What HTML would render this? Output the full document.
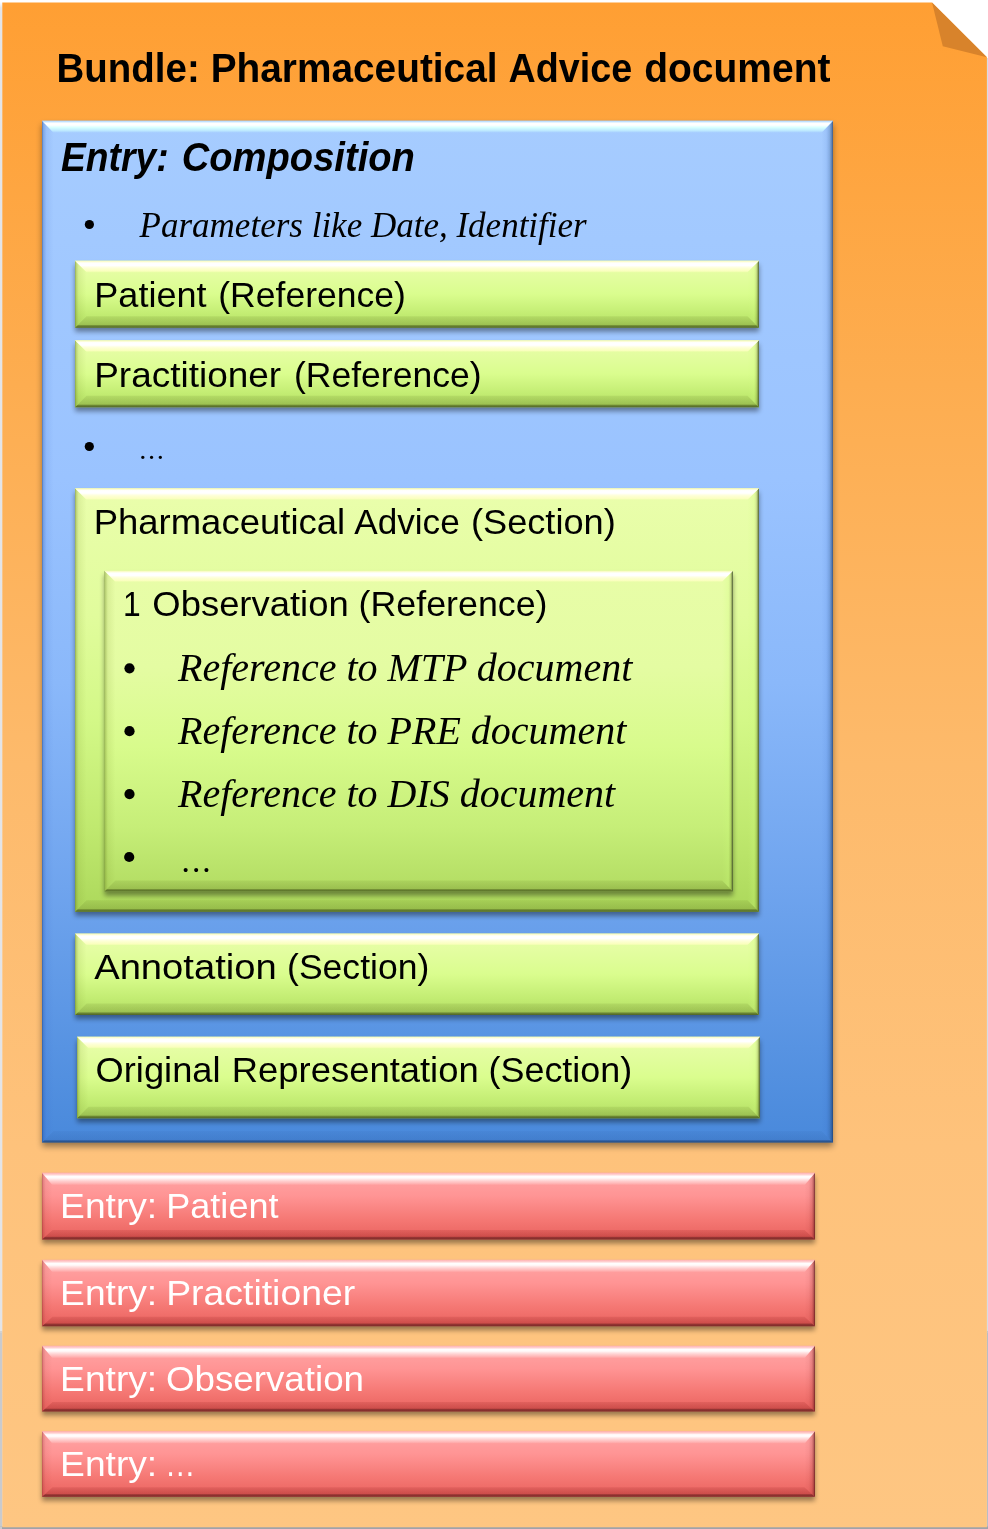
<!DOCTYPE html>
<html><head><meta charset="utf-8"><title>Bundle: Pharmaceutical Advice document</title>
<style>
html,body{margin:0;padding:0;background:#fff;}
body{width:988px;height:1529px;overflow:hidden;font-family:"Liberation Sans",sans-serif;}
svg{display:block;will-change:transform;}
text{white-space:pre;}
</style></head><body>
<svg width="988" height="1529" viewBox="0 0 988 1529">
<defs>
<linearGradient id="g1" gradientUnits="userSpaceOnUse" x1="0" y1="2" x2="0" y2="8"><stop offset="0" stop-color="#ffffff"/><stop offset="1" stop-color="#E3E4E7"/></linearGradient>
<linearGradient id="g2" x1="0" y1="0" x2="0" y2="1"><stop offset="0" stop-color="#FF9F33"/><stop offset="0.25" stop-color="#FDAD50"/><stop offset="0.5" stop-color="#FDBA6B"/><stop offset="0.75" stop-color="#FEC27B"/><stop offset="1" stop-color="#FEC682"/></linearGradient>
<filter id="f3" x="-10%" y="-50%" width="120%" height="200%"><feGaussianBlur stdDeviation="3"/><feOffset dx="0.3" dy="4.2"/><feComponentTransfer><feFuncA type="linear" slope="0.4"/></feComponentTransfer></filter>
<filter id="f4" x="-10%" y="-50%" width="120%" height="200%"><feGaussianBlur stdDeviation="2.9"/><feOffset dx="0.2" dy="4"/><feComponentTransfer><feFuncA type="linear" slope="0.4"/></feComponentTransfer></filter>
<linearGradient id="g5" x1="0" y1="0" x2="0" y2="1"><stop offset="0" stop-color="#A6CCFF"/><stop offset="0.35" stop-color="#9AC3FF"/><stop offset="0.55" stop-color="#8AB8FA"/><stop offset="0.75" stop-color="#6FA4EE"/><stop offset="1" stop-color="#4989DB"/></linearGradient>
<linearGradient id="g6" gradientUnits="userSpaceOnUse" x1="42" y1="0" x2="53.5" y2="0"><stop offset="0" stop-color="#103470" stop-opacity="0.6"/><stop offset="0.1" stop-color="#1c48a0" stop-opacity="0.3"/><stop offset="0.4" stop-color="#3060d0" stop-opacity="0.1"/><stop offset="1" stop-color="#3060c0" stop-opacity="0.0"/></linearGradient>
<linearGradient id="g7" gradientUnits="userSpaceOnUse" x1="833" y1="0" x2="821.5" y2="0"><stop offset="0" stop-color="#102850" stop-opacity="0.75"/><stop offset="0.08" stop-color="#183868" stop-opacity="0.55"/><stop offset="0.3" stop-color="#204880" stop-opacity="0.25"/><stop offset="0.6" stop-color="#3060c0" stop-opacity="0.08"/><stop offset="1" stop-color="#3060c0" stop-opacity="0.0"/></linearGradient>
<linearGradient id="g8" gradientUnits="userSpaceOnUse" x1="0" y1="120.7" x2="0" y2="132.7"><stop offset="0" stop-color="#a4d4ff" stop-opacity="0.8"/><stop offset="0.2" stop-color="#ffffff" stop-opacity="1.0"/><stop offset="0.36" stop-color="#ffffff" stop-opacity="1.0"/><stop offset="0.58" stop-color="#d6ffff" stop-opacity="1.0"/><stop offset="0.85" stop-color="#c0ecff" stop-opacity="0.85"/><stop offset="1" stop-color="#b0dcff" stop-opacity="0.2"/></linearGradient>
<linearGradient id="g9" gradientUnits="userSpaceOnUse" x1="0" y1="1142.5" x2="0" y2="1131.0"><stop offset="0" stop-color="#0a2040" stop-opacity="0.6"/><stop offset="0.16" stop-color="#102a58" stop-opacity="0.45"/><stop offset="0.24" stop-color="#183a78" stop-opacity="0.14"/><stop offset="1" stop-color="#183a78" stop-opacity="0.05"/></linearGradient>
<linearGradient id="g10" x1="0" y1="0" x2="0" y2="1"><stop offset="0" stop-color="#EAFEAC"/><stop offset="0.25" stop-color="#E2FD9E"/><stop offset="0.5" stop-color="#DAFD8E"/><stop offset="0.8" stop-color="#C2EC72"/><stop offset="1" stop-color="#B2DC64"/></linearGradient>
<linearGradient id="g11" gradientUnits="userSpaceOnUse" x1="75" y1="0" x2="86.5" y2="0"><stop offset="0" stop-color="#5a7420" stop-opacity="0.62"/><stop offset="0.1" stop-color="#6a8420" stop-opacity="0.36"/><stop offset="0.32" stop-color="#7a9428" stop-opacity="0.13"/><stop offset="1" stop-color="#7a9428" stop-opacity="0.0"/></linearGradient>
<linearGradient id="g12" gradientUnits="userSpaceOnUse" x1="759" y1="0" x2="747.5" y2="0"><stop offset="0" stop-color="#38442c" stop-opacity="0.9"/><stop offset="0.1" stop-color="#4a5c24" stop-opacity="0.58"/><stop offset="0.25" stop-color="#6a8420" stop-opacity="0.16"/><stop offset="0.42" stop-color="#ccff78" stop-opacity="0.22"/><stop offset="0.75" stop-color="#ccff78" stop-opacity="0.08"/><stop offset="1" stop-color="#ccff78" stop-opacity="0.0"/></linearGradient>
<linearGradient id="g13" gradientUnits="userSpaceOnUse" x1="0" y1="260.7" x2="0" y2="272.2"><stop offset="0" stop-color="#fbfbb8" stop-opacity="0.85"/><stop offset="0.2" stop-color="#ffffff" stop-opacity="1.0"/><stop offset="0.42" stop-color="#ffffff" stop-opacity="1.0"/><stop offset="0.62" stop-color="#ffffdc" stop-opacity="0.95"/><stop offset="0.9" stop-color="#ffffc4" stop-opacity="0.8"/><stop offset="1" stop-color="#ffffc0" stop-opacity="0.25"/></linearGradient>
<linearGradient id="g14" gradientUnits="userSpaceOnUse" x1="0" y1="327.7" x2="0" y2="316.2"><stop offset="0" stop-color="#3c4c1c" stop-opacity="0.85"/><stop offset="0.18" stop-color="#50661e" stop-opacity="0.7"/><stop offset="0.28" stop-color="#6a8428" stop-opacity="0.32"/><stop offset="1" stop-color="#6a8428" stop-opacity="0.14"/></linearGradient>
<linearGradient id="g15" x1="0" y1="0" x2="0" y2="1"><stop offset="0" stop-color="#EAFEAC"/><stop offset="0.25" stop-color="#E2FD9E"/><stop offset="0.5" stop-color="#DAFD8E"/><stop offset="0.8" stop-color="#C2EC72"/><stop offset="1" stop-color="#B2DC64"/></linearGradient>
<linearGradient id="g16" gradientUnits="userSpaceOnUse" x1="75" y1="0" x2="86.5" y2="0"><stop offset="0" stop-color="#5a7420" stop-opacity="0.62"/><stop offset="0.1" stop-color="#6a8420" stop-opacity="0.36"/><stop offset="0.32" stop-color="#7a9428" stop-opacity="0.13"/><stop offset="1" stop-color="#7a9428" stop-opacity="0.0"/></linearGradient>
<linearGradient id="g17" gradientUnits="userSpaceOnUse" x1="759" y1="0" x2="747.5" y2="0"><stop offset="0" stop-color="#38442c" stop-opacity="0.9"/><stop offset="0.1" stop-color="#4a5c24" stop-opacity="0.58"/><stop offset="0.25" stop-color="#6a8420" stop-opacity="0.16"/><stop offset="0.42" stop-color="#ccff78" stop-opacity="0.22"/><stop offset="0.75" stop-color="#ccff78" stop-opacity="0.08"/><stop offset="1" stop-color="#ccff78" stop-opacity="0.0"/></linearGradient>
<linearGradient id="g18" gradientUnits="userSpaceOnUse" x1="0" y1="340.3" x2="0" y2="351.8"><stop offset="0" stop-color="#fbfbb8" stop-opacity="0.85"/><stop offset="0.2" stop-color="#ffffff" stop-opacity="1.0"/><stop offset="0.42" stop-color="#ffffff" stop-opacity="1.0"/><stop offset="0.62" stop-color="#ffffdc" stop-opacity="0.95"/><stop offset="0.9" stop-color="#ffffc4" stop-opacity="0.8"/><stop offset="1" stop-color="#ffffc0" stop-opacity="0.25"/></linearGradient>
<linearGradient id="g19" gradientUnits="userSpaceOnUse" x1="0" y1="407.3" x2="0" y2="395.8"><stop offset="0" stop-color="#3c4c1c" stop-opacity="0.85"/><stop offset="0.18" stop-color="#50661e" stop-opacity="0.7"/><stop offset="0.28" stop-color="#6a8428" stop-opacity="0.32"/><stop offset="1" stop-color="#6a8428" stop-opacity="0.14"/></linearGradient>
<linearGradient id="g20" x1="0" y1="0" x2="0" y2="1"><stop offset="0" stop-color="#EAFEAC"/><stop offset="0.3" stop-color="#E1FC9C"/><stop offset="0.55" stop-color="#D3F887"/><stop offset="0.8" stop-color="#C0E96F"/><stop offset="1" stop-color="#ACD85B"/></linearGradient>
<linearGradient id="g21" gradientUnits="userSpaceOnUse" x1="75" y1="0" x2="86.5" y2="0"><stop offset="0" stop-color="#5a7420" stop-opacity="0.62"/><stop offset="0.1" stop-color="#6a8420" stop-opacity="0.36"/><stop offset="0.32" stop-color="#7a9428" stop-opacity="0.13"/><stop offset="1" stop-color="#7a9428" stop-opacity="0.0"/></linearGradient>
<linearGradient id="g22" gradientUnits="userSpaceOnUse" x1="759" y1="0" x2="747.5" y2="0"><stop offset="0" stop-color="#38442c" stop-opacity="0.9"/><stop offset="0.1" stop-color="#4a5c24" stop-opacity="0.58"/><stop offset="0.25" stop-color="#6a8420" stop-opacity="0.16"/><stop offset="0.42" stop-color="#ccff78" stop-opacity="0.22"/><stop offset="0.75" stop-color="#ccff78" stop-opacity="0.08"/><stop offset="1" stop-color="#ccff78" stop-opacity="0.0"/></linearGradient>
<linearGradient id="g23" gradientUnits="userSpaceOnUse" x1="0" y1="488.3" x2="0" y2="499.8"><stop offset="0" stop-color="#fbfbb8" stop-opacity="0.85"/><stop offset="0.2" stop-color="#ffffff" stop-opacity="1.0"/><stop offset="0.42" stop-color="#ffffff" stop-opacity="1.0"/><stop offset="0.62" stop-color="#ffffdc" stop-opacity="0.95"/><stop offset="0.9" stop-color="#ffffc4" stop-opacity="0.8"/><stop offset="1" stop-color="#ffffc0" stop-opacity="0.25"/></linearGradient>
<linearGradient id="g24" gradientUnits="userSpaceOnUse" x1="0" y1="911.8" x2="0" y2="900.3"><stop offset="0" stop-color="#3c4c1c" stop-opacity="0.85"/><stop offset="0.18" stop-color="#50661e" stop-opacity="0.7"/><stop offset="0.28" stop-color="#6a8428" stop-opacity="0.32"/><stop offset="1" stop-color="#6a8428" stop-opacity="0.14"/></linearGradient>
<linearGradient id="g25" x1="0" y1="0" x2="0" y2="1"><stop offset="0" stop-color="#E8FDA8"/><stop offset="0.3" stop-color="#E4FCA2"/><stop offset="0.55" stop-color="#D8FB8C"/><stop offset="0.8" stop-color="#C6EE78"/><stop offset="1" stop-color="#B2DC62"/></linearGradient>
<linearGradient id="g26" gradientUnits="userSpaceOnUse" x1="104.4" y1="0" x2="115.4" y2="0"><stop offset="0" stop-color="#5a7420" stop-opacity="0.62"/><stop offset="0.1" stop-color="#6a8420" stop-opacity="0.36"/><stop offset="0.32" stop-color="#7a9428" stop-opacity="0.13"/><stop offset="1" stop-color="#7a9428" stop-opacity="0.0"/></linearGradient>
<linearGradient id="g27" gradientUnits="userSpaceOnUse" x1="733.0" y1="0" x2="722.0" y2="0"><stop offset="0" stop-color="#38442c" stop-opacity="0.9"/><stop offset="0.1" stop-color="#4a5c24" stop-opacity="0.58"/><stop offset="0.25" stop-color="#6a8420" stop-opacity="0.16"/><stop offset="0.42" stop-color="#ccff78" stop-opacity="0.22"/><stop offset="0.75" stop-color="#ccff78" stop-opacity="0.08"/><stop offset="1" stop-color="#ccff78" stop-opacity="0.0"/></linearGradient>
<linearGradient id="g28" gradientUnits="userSpaceOnUse" x1="0" y1="570.8" x2="0" y2="581.8"><stop offset="0" stop-color="#fbfbb8" stop-opacity="0.85"/><stop offset="0.2" stop-color="#ffffff" stop-opacity="1.0"/><stop offset="0.42" stop-color="#ffffff" stop-opacity="1.0"/><stop offset="0.62" stop-color="#ffffdc" stop-opacity="0.95"/><stop offset="0.9" stop-color="#ffffc4" stop-opacity="0.8"/><stop offset="1" stop-color="#ffffc0" stop-opacity="0.25"/></linearGradient>
<linearGradient id="g29" gradientUnits="userSpaceOnUse" x1="0" y1="891.5999999999999" x2="0" y2="880.5999999999999"><stop offset="0" stop-color="#3c4c1c" stop-opacity="0.85"/><stop offset="0.18" stop-color="#50661e" stop-opacity="0.7"/><stop offset="0.28" stop-color="#6a8428" stop-opacity="0.32"/><stop offset="1" stop-color="#6a8428" stop-opacity="0.14"/></linearGradient>
<linearGradient id="g30" x1="0" y1="0" x2="0" y2="1"><stop offset="0" stop-color="#EAFEAC"/><stop offset="0.25" stop-color="#E2FD9E"/><stop offset="0.5" stop-color="#DAFD8E"/><stop offset="0.8" stop-color="#C2EC72"/><stop offset="1" stop-color="#B2DC64"/></linearGradient>
<linearGradient id="g31" gradientUnits="userSpaceOnUse" x1="75" y1="0" x2="86.5" y2="0"><stop offset="0" stop-color="#5a7420" stop-opacity="0.62"/><stop offset="0.1" stop-color="#6a8420" stop-opacity="0.36"/><stop offset="0.32" stop-color="#7a9428" stop-opacity="0.13"/><stop offset="1" stop-color="#7a9428" stop-opacity="0.0"/></linearGradient>
<linearGradient id="g32" gradientUnits="userSpaceOnUse" x1="759" y1="0" x2="747.5" y2="0"><stop offset="0" stop-color="#38442c" stop-opacity="0.9"/><stop offset="0.1" stop-color="#4a5c24" stop-opacity="0.58"/><stop offset="0.25" stop-color="#6a8420" stop-opacity="0.16"/><stop offset="0.42" stop-color="#ccff78" stop-opacity="0.22"/><stop offset="0.75" stop-color="#ccff78" stop-opacity="0.08"/><stop offset="1" stop-color="#ccff78" stop-opacity="0.0"/></linearGradient>
<linearGradient id="g33" gradientUnits="userSpaceOnUse" x1="0" y1="933.6" x2="0" y2="945.1"><stop offset="0" stop-color="#fbfbb8" stop-opacity="0.85"/><stop offset="0.2" stop-color="#ffffff" stop-opacity="1.0"/><stop offset="0.42" stop-color="#ffffff" stop-opacity="1.0"/><stop offset="0.62" stop-color="#ffffdc" stop-opacity="0.95"/><stop offset="0.9" stop-color="#ffffc4" stop-opacity="0.8"/><stop offset="1" stop-color="#ffffc0" stop-opacity="0.25"/></linearGradient>
<linearGradient id="g34" gradientUnits="userSpaceOnUse" x1="0" y1="1015.0" x2="0" y2="1003.5"><stop offset="0" stop-color="#3c4c1c" stop-opacity="0.85"/><stop offset="0.18" stop-color="#50661e" stop-opacity="0.7"/><stop offset="0.28" stop-color="#6a8428" stop-opacity="0.32"/><stop offset="1" stop-color="#6a8428" stop-opacity="0.14"/></linearGradient>
<linearGradient id="g35" x1="0" y1="0" x2="0" y2="1"><stop offset="0" stop-color="#EAFEAC"/><stop offset="0.25" stop-color="#E2FD9E"/><stop offset="0.5" stop-color="#DAFD8E"/><stop offset="0.8" stop-color="#C2EC72"/><stop offset="1" stop-color="#B2DC64"/></linearGradient>
<linearGradient id="g36" gradientUnits="userSpaceOnUse" x1="77" y1="0" x2="88.5" y2="0"><stop offset="0" stop-color="#5a7420" stop-opacity="0.62"/><stop offset="0.1" stop-color="#6a8420" stop-opacity="0.36"/><stop offset="0.32" stop-color="#7a9428" stop-opacity="0.13"/><stop offset="1" stop-color="#7a9428" stop-opacity="0.0"/></linearGradient>
<linearGradient id="g37" gradientUnits="userSpaceOnUse" x1="760" y1="0" x2="748.5" y2="0"><stop offset="0" stop-color="#38442c" stop-opacity="0.9"/><stop offset="0.1" stop-color="#4a5c24" stop-opacity="0.58"/><stop offset="0.25" stop-color="#6a8420" stop-opacity="0.16"/><stop offset="0.42" stop-color="#ccff78" stop-opacity="0.22"/><stop offset="0.75" stop-color="#ccff78" stop-opacity="0.08"/><stop offset="1" stop-color="#ccff78" stop-opacity="0.0"/></linearGradient>
<linearGradient id="g38" gradientUnits="userSpaceOnUse" x1="0" y1="1036.7" x2="0" y2="1048.2"><stop offset="0" stop-color="#fbfbb8" stop-opacity="0.85"/><stop offset="0.2" stop-color="#ffffff" stop-opacity="1.0"/><stop offset="0.42" stop-color="#ffffff" stop-opacity="1.0"/><stop offset="0.62" stop-color="#ffffdc" stop-opacity="0.95"/><stop offset="0.9" stop-color="#ffffc4" stop-opacity="0.8"/><stop offset="1" stop-color="#ffffc0" stop-opacity="0.25"/></linearGradient>
<linearGradient id="g39" gradientUnits="userSpaceOnUse" x1="0" y1="1118.3" x2="0" y2="1106.8"><stop offset="0" stop-color="#3c4c1c" stop-opacity="0.85"/><stop offset="0.18" stop-color="#50661e" stop-opacity="0.7"/><stop offset="0.28" stop-color="#6a8428" stop-opacity="0.32"/><stop offset="1" stop-color="#6a8428" stop-opacity="0.14"/></linearGradient>
<linearGradient id="g40" x1="0" y1="0" x2="0" y2="1"><stop offset="0" stop-color="#FFA6A6"/><stop offset="0.35" stop-color="#FF9494"/><stop offset="0.7" stop-color="#F57874"/><stop offset="1" stop-color="#E9625E"/></linearGradient>
<linearGradient id="g41" gradientUnits="userSpaceOnUse" x1="42" y1="0" x2="52.5" y2="0"><stop offset="0" stop-color="#701414" stop-opacity="0.5"/><stop offset="0.1" stop-color="#801818" stop-opacity="0.22"/><stop offset="0.35" stop-color="#801818" stop-opacity="0.06"/><stop offset="1" stop-color="#801818" stop-opacity="0.0"/></linearGradient>
<linearGradient id="g42" gradientUnits="userSpaceOnUse" x1="815" y1="0" x2="804.5" y2="0"><stop offset="0" stop-color="#400c0c" stop-opacity="0.8"/><stop offset="0.1" stop-color="#601414" stop-opacity="0.5"/><stop offset="0.3" stop-color="#801818" stop-opacity="0.2"/><stop offset="0.6" stop-color="#801818" stop-opacity="0.05"/><stop offset="1" stop-color="#801818" stop-opacity="0.0"/></linearGradient>
<linearGradient id="g43" gradientUnits="userSpaceOnUse" x1="0" y1="1172.7" x2="0" y2="1185.2"><stop offset="0" stop-color="#ffc8c8" stop-opacity="0.35"/><stop offset="0.12" stop-color="#ffd8d8" stop-opacity="0.7"/><stop offset="0.28" stop-color="#ffffff" stop-opacity="0.98"/><stop offset="0.42" stop-color="#ffffff" stop-opacity="0.95"/><stop offset="0.7" stop-color="#fff0f0" stop-opacity="0.55"/><stop offset="1" stop-color="#ffffff" stop-opacity="0.0"/></linearGradient>
<linearGradient id="g44" gradientUnits="userSpaceOnUse" x1="0" y1="1239.5" x2="0" y2="1230.0"><stop offset="0" stop-color="#501414" stop-opacity="0.72"/><stop offset="0.22" stop-color="#601818" stop-opacity="0.62"/><stop offset="0.34" stop-color="#901c1c" stop-opacity="0.32"/><stop offset="1" stop-color="#901c1c" stop-opacity="0.14"/></linearGradient>
<linearGradient id="g45" x1="0" y1="0" x2="0" y2="1"><stop offset="0" stop-color="#FFA6A6"/><stop offset="0.35" stop-color="#FF9494"/><stop offset="0.7" stop-color="#F57874"/><stop offset="1" stop-color="#E9625E"/></linearGradient>
<linearGradient id="g46" gradientUnits="userSpaceOnUse" x1="42" y1="0" x2="52.5" y2="0"><stop offset="0" stop-color="#701414" stop-opacity="0.5"/><stop offset="0.1" stop-color="#801818" stop-opacity="0.22"/><stop offset="0.35" stop-color="#801818" stop-opacity="0.06"/><stop offset="1" stop-color="#801818" stop-opacity="0.0"/></linearGradient>
<linearGradient id="g47" gradientUnits="userSpaceOnUse" x1="815" y1="0" x2="804.5" y2="0"><stop offset="0" stop-color="#400c0c" stop-opacity="0.8"/><stop offset="0.1" stop-color="#601414" stop-opacity="0.5"/><stop offset="0.3" stop-color="#801818" stop-opacity="0.2"/><stop offset="0.6" stop-color="#801818" stop-opacity="0.05"/><stop offset="1" stop-color="#801818" stop-opacity="0.0"/></linearGradient>
<linearGradient id="g48" gradientUnits="userSpaceOnUse" x1="0" y1="1259.8" x2="0" y2="1272.3"><stop offset="0" stop-color="#ffc8c8" stop-opacity="0.35"/><stop offset="0.12" stop-color="#ffd8d8" stop-opacity="0.7"/><stop offset="0.28" stop-color="#ffffff" stop-opacity="0.98"/><stop offset="0.42" stop-color="#ffffff" stop-opacity="0.95"/><stop offset="0.7" stop-color="#fff0f0" stop-opacity="0.55"/><stop offset="1" stop-color="#ffffff" stop-opacity="0.0"/></linearGradient>
<linearGradient id="g49" gradientUnits="userSpaceOnUse" x1="0" y1="1326.2" x2="0" y2="1316.7"><stop offset="0" stop-color="#501414" stop-opacity="0.72"/><stop offset="0.22" stop-color="#601818" stop-opacity="0.62"/><stop offset="0.34" stop-color="#901c1c" stop-opacity="0.32"/><stop offset="1" stop-color="#901c1c" stop-opacity="0.14"/></linearGradient>
<linearGradient id="g50" x1="0" y1="0" x2="0" y2="1"><stop offset="0" stop-color="#FFA6A6"/><stop offset="0.35" stop-color="#FF9494"/><stop offset="0.7" stop-color="#F57874"/><stop offset="1" stop-color="#E9625E"/></linearGradient>
<linearGradient id="g51" gradientUnits="userSpaceOnUse" x1="42" y1="0" x2="52.5" y2="0"><stop offset="0" stop-color="#701414" stop-opacity="0.5"/><stop offset="0.1" stop-color="#801818" stop-opacity="0.22"/><stop offset="0.35" stop-color="#801818" stop-opacity="0.06"/><stop offset="1" stop-color="#801818" stop-opacity="0.0"/></linearGradient>
<linearGradient id="g52" gradientUnits="userSpaceOnUse" x1="815" y1="0" x2="804.5" y2="0"><stop offset="0" stop-color="#400c0c" stop-opacity="0.8"/><stop offset="0.1" stop-color="#601414" stop-opacity="0.5"/><stop offset="0.3" stop-color="#801818" stop-opacity="0.2"/><stop offset="0.6" stop-color="#801818" stop-opacity="0.05"/><stop offset="1" stop-color="#801818" stop-opacity="0.0"/></linearGradient>
<linearGradient id="g53" gradientUnits="userSpaceOnUse" x1="0" y1="1345.8" x2="0" y2="1358.3"><stop offset="0" stop-color="#ffc8c8" stop-opacity="0.35"/><stop offset="0.12" stop-color="#ffd8d8" stop-opacity="0.7"/><stop offset="0.28" stop-color="#ffffff" stop-opacity="0.98"/><stop offset="0.42" stop-color="#ffffff" stop-opacity="0.95"/><stop offset="0.7" stop-color="#fff0f0" stop-opacity="0.55"/><stop offset="1" stop-color="#ffffff" stop-opacity="0.0"/></linearGradient>
<linearGradient id="g54" gradientUnits="userSpaceOnUse" x1="0" y1="1411.3999999999999" x2="0" y2="1401.8999999999999"><stop offset="0" stop-color="#501414" stop-opacity="0.72"/><stop offset="0.22" stop-color="#601818" stop-opacity="0.62"/><stop offset="0.34" stop-color="#901c1c" stop-opacity="0.32"/><stop offset="1" stop-color="#901c1c" stop-opacity="0.14"/></linearGradient>
<linearGradient id="g55" x1="0" y1="0" x2="0" y2="1"><stop offset="0" stop-color="#FFA6A6"/><stop offset="0.35" stop-color="#FF9494"/><stop offset="0.7" stop-color="#F57874"/><stop offset="1" stop-color="#E9625E"/></linearGradient>
<linearGradient id="g56" gradientUnits="userSpaceOnUse" x1="42" y1="0" x2="52.5" y2="0"><stop offset="0" stop-color="#701414" stop-opacity="0.5"/><stop offset="0.1" stop-color="#801818" stop-opacity="0.22"/><stop offset="0.35" stop-color="#801818" stop-opacity="0.06"/><stop offset="1" stop-color="#801818" stop-opacity="0.0"/></linearGradient>
<linearGradient id="g57" gradientUnits="userSpaceOnUse" x1="815" y1="0" x2="804.5" y2="0"><stop offset="0" stop-color="#400c0c" stop-opacity="0.8"/><stop offset="0.1" stop-color="#601414" stop-opacity="0.5"/><stop offset="0.3" stop-color="#801818" stop-opacity="0.2"/><stop offset="0.6" stop-color="#801818" stop-opacity="0.05"/><stop offset="1" stop-color="#801818" stop-opacity="0.0"/></linearGradient>
<linearGradient id="g58" gradientUnits="userSpaceOnUse" x1="0" y1="1431.2" x2="0" y2="1443.7"><stop offset="0" stop-color="#ffc8c8" stop-opacity="0.35"/><stop offset="0.12" stop-color="#ffd8d8" stop-opacity="0.7"/><stop offset="0.28" stop-color="#ffffff" stop-opacity="0.98"/><stop offset="0.42" stop-color="#ffffff" stop-opacity="0.95"/><stop offset="0.7" stop-color="#fff0f0" stop-opacity="0.55"/><stop offset="1" stop-color="#ffffff" stop-opacity="0.0"/></linearGradient>
<linearGradient id="g59" gradientUnits="userSpaceOnUse" x1="0" y1="1496.8" x2="0" y2="1487.3"><stop offset="0" stop-color="#501414" stop-opacity="0.72"/><stop offset="0.22" stop-color="#601818" stop-opacity="0.62"/><stop offset="0.34" stop-color="#901c1c" stop-opacity="0.32"/><stop offset="1" stop-color="#901c1c" stop-opacity="0.14"/></linearGradient>
</defs>
<rect x="0" y="0" width="988" height="1529" fill="#ffffff" />
<rect x="0" y="0" width="2.6" height="1331.5" fill="url(#g1)" />
<rect x="0" y="1331.5" width="2.6" height="1" fill="#B2B2B4" />
<rect x="0" y="1332.5" width="2.6" height="196.5" fill="#C9CACD" />
<rect x="986.5" y="58" width="1.5" height="1273.5" fill="#D8DBE3" />
<rect x="986.5" y="1331.5" width="1.5" height="1" fill="#9C9CA0" />
<rect x="986.5" y="1332.5" width="1.5" height="196.5" fill="#B9BDC5" />
<rect x="0" y="1526.5" width="988" height="2.5" fill="#A0A3A9" />
<rect x="0" y="1526.5" width="2" height="2.5" fill="#CCCCCC" />
<polygon points="2.3,2.5 932,2.5 986.9,57.2 986.9,1527.2 2.3,1527.2" fill="url(#g2)" />
<polygon points="932,2.5 986.9,57.2 942.8,46.3" fill="#D8832B" />
<rect x="42" y="120.7" width="791" height="1021.8" fill="#000" filter="url(#f3)"/>
<rect x="42" y="120.7" width="791" height="1021.8" fill="url(#g5)" />
<polygon points="42,120.7 53.5,132.7 53.5,1131.0 42,1142.5" fill="url(#g6)" />
<polygon points="833,120.7 833,1142.5 821.5,1131.0 821.5,132.7" fill="url(#g7)" />
<polygon points="42,120.7 833,120.7 821.5,132.7 53.5,132.7" fill="url(#g8)" />
<polygon points="42,1142.5 833,1142.5 821.5,1131.0 53.5,1131.0" fill="url(#g9)" />
<rect x="75" y="260.7" width="684" height="67" fill="#000" filter="url(#f4)"/>
<rect x="75" y="260.7" width="684" height="67" fill="url(#g10)" />
<polygon points="75,260.7 86.5,272.2 86.5,316.2 75,327.7" fill="url(#g11)" />
<polygon points="759,260.7 759,327.7 747.5,316.2 747.5,272.2" fill="url(#g12)" />
<polygon points="75,260.7 759,260.7 747.5,272.2 86.5,272.2" fill="url(#g13)" />
<polygon points="75,327.7 759,327.7 747.5,316.2 86.5,316.2" fill="url(#g14)" />
<rect x="75" y="340.3" width="684" height="67" fill="#000" filter="url(#f4)"/>
<rect x="75" y="340.3" width="684" height="67" fill="url(#g15)" />
<polygon points="75,340.3 86.5,351.8 86.5,395.8 75,407.3" fill="url(#g16)" />
<polygon points="759,340.3 759,407.3 747.5,395.8 747.5,351.8" fill="url(#g17)" />
<polygon points="75,340.3 759,340.3 747.5,351.8 86.5,351.8" fill="url(#g18)" />
<polygon points="75,407.3 759,407.3 747.5,395.8 86.5,395.8" fill="url(#g19)" />
<rect x="75" y="488.3" width="684" height="423.5" fill="#000" filter="url(#f4)"/>
<rect x="75" y="488.3" width="684" height="423.5" fill="url(#g20)" />
<polygon points="75,488.3 86.5,499.8 86.5,900.3 75,911.8" fill="url(#g21)" />
<polygon points="759,488.3 759,911.8 747.5,900.3 747.5,499.8" fill="url(#g22)" />
<polygon points="75,488.3 759,488.3 747.5,499.8 86.5,499.8" fill="url(#g23)" />
<polygon points="75,911.8 759,911.8 747.5,900.3 86.5,900.3" fill="url(#g24)" />
<rect x="104.4" y="570.8" width="628.6" height="320.8" fill="#000" filter="url(#f4)"/>
<rect x="104.4" y="570.8" width="628.6" height="320.8" fill="url(#g25)" />
<polygon points="104.4,570.8 115.4,581.8 115.4,880.5999999999999 104.4,891.5999999999999" fill="url(#g26)" />
<polygon points="733.0,570.8 733.0,891.5999999999999 722.0,880.5999999999999 722.0,581.8" fill="url(#g27)" />
<polygon points="104.4,570.8 733.0,570.8 722.0,581.8 115.4,581.8" fill="url(#g28)" />
<polygon points="104.4,891.5999999999999 733.0,891.5999999999999 722.0,880.5999999999999 115.4,880.5999999999999" fill="url(#g29)" />
<rect x="75" y="933.6" width="684" height="81.4" fill="#000" filter="url(#f4)"/>
<rect x="75" y="933.6" width="684" height="81.4" fill="url(#g30)" />
<polygon points="75,933.6 86.5,945.1 86.5,1003.5 75,1015.0" fill="url(#g31)" />
<polygon points="759,933.6 759,1015.0 747.5,1003.5 747.5,945.1" fill="url(#g32)" />
<polygon points="75,933.6 759,933.6 747.5,945.1 86.5,945.1" fill="url(#g33)" />
<polygon points="75,1015.0 759,1015.0 747.5,1003.5 86.5,1003.5" fill="url(#g34)" />
<rect x="77" y="1036.7" width="683" height="81.6" fill="#000" filter="url(#f4)"/>
<rect x="77" y="1036.7" width="683" height="81.6" fill="url(#g35)" />
<polygon points="77,1036.7 88.5,1048.2 88.5,1106.8 77,1118.3" fill="url(#g36)" />
<polygon points="760,1036.7 760,1118.3 748.5,1106.8 748.5,1048.2" fill="url(#g37)" />
<polygon points="77,1036.7 760,1036.7 748.5,1048.2 88.5,1048.2" fill="url(#g38)" />
<polygon points="77,1118.3 760,1118.3 748.5,1106.8 88.5,1106.8" fill="url(#g39)" />
<rect x="42" y="1172.7" width="773" height="66.8" fill="#000" filter="url(#f4)"/>
<rect x="42" y="1172.7" width="773" height="66.8" fill="url(#g40)" />
<polygon points="42,1172.7 52.5,1185.2 52.5,1230.0 42,1239.5" fill="url(#g41)" />
<polygon points="815,1172.7 815,1239.5 804.5,1230.0 804.5,1185.2" fill="url(#g42)" />
<polygon points="42,1172.7 815,1172.7 804.5,1185.2 52.5,1185.2" fill="url(#g43)" />
<polygon points="42,1239.5 815,1239.5 804.5,1230.0 52.5,1230.0" fill="url(#g44)" />
<rect x="42" y="1259.8" width="773" height="66.4" fill="#000" filter="url(#f4)"/>
<rect x="42" y="1259.8" width="773" height="66.4" fill="url(#g45)" />
<polygon points="42,1259.8 52.5,1272.3 52.5,1316.7 42,1326.2" fill="url(#g46)" />
<polygon points="815,1259.8 815,1326.2 804.5,1316.7 804.5,1272.3" fill="url(#g47)" />
<polygon points="42,1259.8 815,1259.8 804.5,1272.3 52.5,1272.3" fill="url(#g48)" />
<polygon points="42,1326.2 815,1326.2 804.5,1316.7 52.5,1316.7" fill="url(#g49)" />
<rect x="42" y="1345.8" width="773" height="65.6" fill="#000" filter="url(#f4)"/>
<rect x="42" y="1345.8" width="773" height="65.6" fill="url(#g50)" />
<polygon points="42,1345.8 52.5,1358.3 52.5,1401.8999999999999 42,1411.3999999999999" fill="url(#g51)" />
<polygon points="815,1345.8 815,1411.3999999999999 804.5,1401.8999999999999 804.5,1358.3" fill="url(#g52)" />
<polygon points="42,1345.8 815,1345.8 804.5,1358.3 52.5,1358.3" fill="url(#g53)" />
<polygon points="42,1411.3999999999999 815,1411.3999999999999 804.5,1401.8999999999999 52.5,1401.8999999999999" fill="url(#g54)" />
<rect x="42" y="1431.2" width="773" height="65.6" fill="#000" filter="url(#f4)"/>
<rect x="42" y="1431.2" width="773" height="65.6" fill="url(#g55)" />
<polygon points="42,1431.2 52.5,1443.7 52.5,1487.3 42,1496.8" fill="url(#g56)" />
<polygon points="815,1431.2 815,1496.8 804.5,1487.3 804.5,1443.7" fill="url(#g57)" />
<polygon points="42,1431.2 815,1431.2 804.5,1443.7 52.5,1443.7" fill="url(#g58)" />
<polygon points="42,1496.8 815,1496.8 804.5,1487.3 52.5,1487.3" fill="url(#g59)" />
<text y="81.7" font-family="'Liberation Sans'" font-size="40" font-weight="bold" font-style="normal" fill="#000"><tspan x="56.58" textLength="143.11" lengthAdjust="spacingAndGlyphs">Bundle:</tspan> <tspan x="210.66" textLength="286.89" lengthAdjust="spacingAndGlyphs">Pharmaceutical</tspan> <tspan x="508.56" textLength="123.62" lengthAdjust="spacingAndGlyphs">Advice</tspan> <tspan x="644.23" textLength="186.29" lengthAdjust="spacingAndGlyphs">document</tspan></text>
<text y="171" font-family="'Liberation Sans'" font-size="40" font-weight="bold" font-style="italic" fill="#000"><tspan x="61.00" textLength="107.53" lengthAdjust="spacingAndGlyphs">Entry:</tspan> <tspan x="181.75" textLength="233.12" lengthAdjust="spacingAndGlyphs">Composition</tspan></text>
<circle cx="89.4" cy="224.5" r="4.6" fill="#000"/>
<text x="139.6" y="236.5" font-family="'Liberation Serif'" font-size="35" font-weight="normal" font-style="italic" fill="#000">Parameters like Date, Identifier</text>
<text y="306.7" font-family="'Liberation Sans'" font-size="35.6" font-weight="normal" font-style="normal" fill="#000"><tspan x="94.27" textLength="112.31" lengthAdjust="spacingAndGlyphs">Patient</tspan> <tspan x="218.30" textLength="187.54" lengthAdjust="spacingAndGlyphs">(Reference)</tspan></text>
<text y="386.5" font-family="'Liberation Sans'" font-size="35.6" font-weight="normal" font-style="normal" fill="#000"><tspan x="94.22" textLength="186.92" lengthAdjust="spacingAndGlyphs">Practitioner</tspan> <tspan x="294.00" textLength="187.54" lengthAdjust="spacingAndGlyphs">(Reference)</tspan></text>
<circle cx="89.3" cy="446.5" r="4.6" fill="#000"/>
<text x="140.1" y="459.3" font-family="'Liberation Serif'" font-size="28" font-style="italic" letter-spacing="1.65">...</text>
<text y="534.2" font-family="'Liberation Sans'" font-size="35.6" font-weight="normal" font-style="normal" fill="#000"><tspan x="93.65" textLength="251.50" lengthAdjust="spacingAndGlyphs">Pharmaceutical</tspan> <tspan x="354.20" textLength="105.58" lengthAdjust="spacingAndGlyphs">Advice</tspan> <tspan x="470.97" textLength="144.81" lengthAdjust="spacingAndGlyphs">(Section)</tspan></text>
<text y="616.2" font-family="'Liberation Sans'" font-size="35.6" font-weight="normal" font-style="normal" fill="#000"><tspan x="123.01" textLength="17.69" lengthAdjust="spacingAndGlyphs">1</tspan> <tspan x="152.38" textLength="196.25" lengthAdjust="spacingAndGlyphs">Observation</tspan> <tspan x="358.59" textLength="188.97" lengthAdjust="spacingAndGlyphs">(Reference)</tspan></text>
<circle cx="129.5" cy="668.3" r="5.1" fill="#000"/>
<text x="178" y="681.3" font-family="'Liberation Serif'" font-size="40" font-weight="normal" font-style="italic" fill="#000">Reference to MTP document</text>
<circle cx="129.5" cy="731.2" r="5.1" fill="#000"/>
<text x="178" y="744.2" font-family="'Liberation Serif'" font-size="40" font-weight="normal" font-style="italic" fill="#000">Reference to PRE document</text>
<circle cx="129.5" cy="794.1" r="5.1" fill="#000"/>
<text x="178" y="807.1" font-family="'Liberation Serif'" font-size="40" font-weight="normal" font-style="italic" fill="#000">Reference to DIS document</text>
<circle cx="129.2" cy="857" r="5.1" fill="#000"/>
<text x="182.3" y="871.8" font-family="'Liberation Serif'" font-size="34" font-style="italic" letter-spacing="1.9">...</text>
<text y="978.7" font-family="'Liberation Sans'" font-size="35.6" font-weight="normal" font-style="normal" fill="#000"><tspan x="94.20" textLength="182.52" lengthAdjust="spacingAndGlyphs">Annotation</tspan> <tspan x="287.10" textLength="142.14" lengthAdjust="spacingAndGlyphs">(Section)</tspan></text>
<text y="1082" font-family="'Liberation Sans'" font-size="35.6" font-weight="normal" font-style="normal" fill="#000"><tspan x="95.58" textLength="124.96" lengthAdjust="spacingAndGlyphs">Original</tspan> <tspan x="231.75" textLength="246.98" lengthAdjust="spacingAndGlyphs">Representation</tspan> <tspan x="488.58" textLength="143.58" lengthAdjust="spacingAndGlyphs">(Section)</tspan></text>
<text y="1218.3" font-family="'Liberation Sans'" font-size="35" font-weight="normal" font-style="normal" fill="#fff"><tspan x="60.08" textLength="97.12" lengthAdjust="spacingAndGlyphs">Entry:</tspan> <tspan x="166.24" textLength="112.28" lengthAdjust="spacingAndGlyphs">Patient</tspan></text>
<text y="1304.8" font-family="'Liberation Sans'" font-size="35" font-weight="normal" font-style="normal" fill="#fff"><tspan x="60.08" textLength="97.12" lengthAdjust="spacingAndGlyphs">Entry:</tspan> <tspan x="166.16" textLength="189.07" lengthAdjust="spacingAndGlyphs">Practitioner</tspan></text>
<text y="1390.5" font-family="'Liberation Sans'" font-size="35" font-weight="normal" font-style="normal" fill="#fff"><tspan x="60.08" textLength="97.12" lengthAdjust="spacingAndGlyphs">Entry:</tspan> <tspan x="165.95" textLength="198.09" lengthAdjust="spacingAndGlyphs">Observation</tspan></text>
<text y="1476.4" font-family="'Liberation Sans'" font-size="35" font-weight="normal" font-style="normal" fill="#fff"><tspan x="60.08" textLength="97.12" lengthAdjust="spacingAndGlyphs">Entry:</tspan> <tspan x="165.02" textLength="30.46" lengthAdjust="spacingAndGlyphs">…</tspan></text>
</svg>
</body></html>
